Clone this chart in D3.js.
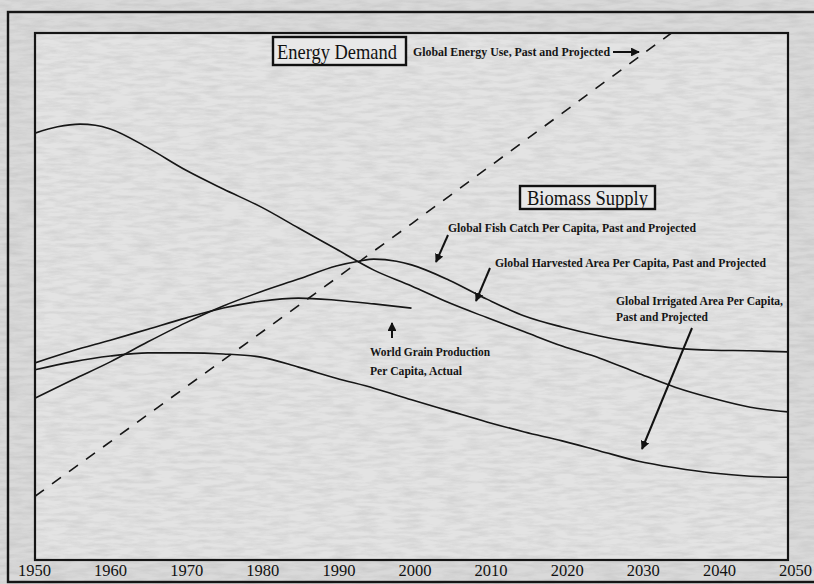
<!DOCTYPE html>
<html>
<head>
<meta charset="utf-8">
<script src="https://cdn.jsdelivr.net/npm/d3@7"></script>
<style>
  body { margin: 0; background: #dedede; }
  svg { display: block; }
</style>
</head>
<body>
<script>
// values are an index (0 = bottom of the plot, 100 = top)
var tickYears = [1950, 1960, 1970, 1980, 1990, 2000, 2010, 2020, 2030, 2040, 2050];

var harvestedYears  = [1950, 1953, 1956, 1958, 1960, 1965, 1970, 1975, 1980, 1985, 1990, 1995, 2000, 2005, 2010, 2015, 2020, 2025, 2030, 2035, 2040, 2045, 2050];
var harvestedValues = [81.0, 82.2, 82.7, 82.5, 81.8, 78.2, 74.0, 70.4, 67.0, 63.0, 59.0, 55.0, 52.0, 48.8, 46.0, 43.3, 40.6, 38.3, 35.5, 32.8, 30.7, 29.0, 28.1];

var fishYears  = [1950, 1955, 1960, 1965, 1970, 1975, 1980, 1985, 1990, 1993, 1995, 1998, 2000, 2005, 2010, 2015, 2020, 2025, 2030, 2035, 2040, 2045, 2050];
var fishValues = [30.7, 34.2, 37.6, 41.4, 45.0, 48.2, 50.9, 53.3, 55.8, 56.7, 57.1, 56.7, 56.0, 53.1, 49.5, 46.3, 44.2, 42.5, 41.2, 40.2, 39.8, 39.7, 39.5];

var grainYears  = [1950, 1955, 1960, 1965, 1970, 1975, 1980, 1985, 1990, 1995, 2000];
var grainValues = [37.4, 39.7, 41.7, 43.8, 45.9, 47.8, 49.1, 49.7, 49.3, 48.6, 47.8];

var irrigatedYears  = [1950, 1955, 1960, 1965, 1970, 1975, 1980, 1985, 1990, 1995, 2000, 2005, 2010, 2015, 2020, 2025, 2030, 2035, 2040, 2045, 2050];
var irrigatedValues = [36.1, 37.6, 38.7, 39.3, 39.3, 39.1, 38.5, 36.6, 34.5, 32.6, 30.4, 28.3, 26.2, 24.3, 22.6, 20.7, 18.8, 17.5, 16.5, 15.9, 15.7];

var energyYears  = [1950, 2000, 2035];
var energyValues = [12.1, 63.8, 100.5];

var width = 814,
    height = 584;

var x = d3.scaleLinear().domain([1950, 2050]).range([35, 788]);
var xLabels = d3.scaleLinear().domain([1950, 2050]).range([34, 795]);
var y = d3.scaleLinear().domain([0, 100]).range([560, 33]);

var svg = d3.select("body").append("svg")
    .attr("width", width)
    .attr("height", height);

var defs = svg.append("defs");

// paper grain of the scan
var f = defs.append("filter").attr("id", "paper")
    .attr("x", 0).attr("y", 0).attr("width", "100%").attr("height", "100%");
f.append("feTurbulence").attr("type", "fractalNoise")
    .attr("baseFrequency", "0.045 0.25").attr("numOctaves", 3).attr("seed", 7);
f.append("feColorMatrix").attr("type", "matrix")
    .attr("values", "0 0 0 0 0.3  0 0 0 0 0.3  0 0 0 0 0.3  0 0 0 0.45 -0.16");

defs.append("clipPath").attr("id", "plot")
  .append("rect")
    .attr("x", x(1950)).attr("y", y(100))
    .attr("width", x(2050) - x(1950)).attr("height", y(0) - y(100));

defs.append("marker")
    .attr("id", "head")
    .attr("viewBox", "0 0 10 10")
    .attr("refX", 9).attr("refY", 5)
    .attr("markerWidth", 4.4).attr("markerHeight", 4.4)
    .attr("markerUnits", "strokeWidth")
    .attr("orient", "auto")
  .append("path")
    .attr("d", "M0,0L10,5L0,10z")
    .attr("fill", "#111");

svg.append("rect").attr("width", width).attr("height", height).attr("fill", "#d9d9d9");
svg.append("rect")
    .attr("x", x(1950)).attr("y", y(100))
    .attr("width", x(2050) - x(1950)).attr("height", y(0) - y(100))
    .attr("fill", "#e3e3e3");
svg.append("rect").attr("width", width).attr("height", height)
    .attr("filter", "url(#paper)").attr("opacity", 0.9);

// frames (outer one runs off the right edge of the scan)
svg.append("rect")
    .attr("x", 8).attr("y", 12)
    .attr("width", 812).attr("height", 570)
    .attr("fill", "none").attr("stroke", "#151515").attr("stroke-width", 2.4);

svg.append("rect")
    .attr("x", x(1950)).attr("y", y(100))
    .attr("width", x(2050) - x(1950)).attr("height", y(0) - y(100))
    .attr("fill", "none").attr("stroke", "#151515").attr("stroke-width", 2.2);

var line = d3.line()
    .x(function(d) { return x(d[0]); })
    .y(function(d) { return y(d[1]); })
    .curve(d3.curveMonotoneX);

var series = [
  { years: harvestedYears, values: harvestedValues },
  { years: fishYears, values: fishValues },
  { years: grainYears, values: grainValues },
  { years: irrigatedYears, values: irrigatedValues }
];

var g = svg.append("g").attr("clip-path", "url(#plot)");

g.selectAll(".series")
    .data(series)
  .enter().append("path")
    .attr("class", "series")
    .attr("d", function(s) { return line(d3.zip(s.years, s.values)); })
    .attr("fill", "none")
    .attr("stroke", "#161616")
    .attr("stroke-width", 1.6);

g.append("path")
    .attr("d", d3.line()
      .x(function(d) { return x(d[0]); })
      .y(function(d) { return y(d[1]); })(d3.zip(energyYears, energyValues)))
    .attr("fill", "none")
    .attr("stroke", "#161616")
    .attr("stroke-width", 1.6)
    .attr("stroke-dasharray", "11,10");

// year labels
var axis = svg.append("g")
    .attr("transform", "translate(0," + y(0) + ")")
    .call(d3.axisBottom(xLabels).tickValues(tickYears).tickFormat(d3.format("d")).tickSize(0).tickPadding(4));
axis.select(".domain").remove();
axis.selectAll("text")
    .attr("font-family", "'Liberation Serif', serif")
    .attr("font-size", 17)
    .attr("textLength", 33)
    .attr("lengthAdjust", "spacingAndGlyphs")
    .attr("fill", "#111");

// boxed headings
function boxed(txt, bx, by, bw, bh, tx, tw, size) {
  svg.append("rect")
      .attr("x", bx).attr("y", by)
      .attr("width", bw).attr("height", bh)
      .attr("fill", "#e8e8e8")
      .attr("stroke", "#111").attr("stroke-width", 2.4);
  svg.append("text")
      .attr("x", tx).attr("y", by + bh / 2)
      .attr("dy", "0.35em")
      .attr("textLength", tw)
      .attr("lengthAdjust", "spacingAndGlyphs")
      .attr("font-family", "'Liberation Serif', serif")
      .attr("font-size", size)
      .attr("fill", "#111")
      .text(txt);
}
boxed("Energy Demand", 273, 37, 133, 28, 277, 120, 22);
boxed("Biomass Supply", 520, 186, 135, 23, 527, 121, 20);

// small notes
var notes = [
  { t: "Global Energy Use, Past and Projected", x: 413, y: 52, w: 197 },
  { t: "Global Fish Catch Per Capita, Past and Projected", x: 448, y: 228, w: 248 },
  { t: "Global Harvested Area Per Capita, Past and Projected", x: 495, y: 263, w: 271 },
  { t: "Global Irrigated Area Per Capita,", x: 616, y: 301, w: 167 },
  { t: "Past and Projected", x: 616, y: 317, w: 92 },
  { t: "World Grain Production", x: 370, y: 352, w: 120 },
  { t: "Per Capita, Actual", x: 370, y: 371, w: 92 }
];
svg.selectAll(".note")
    .data(notes)
  .enter().append("text")
    .attr("class", "note")
    .attr("x", function(d) { return d.x; })
    .attr("y", function(d) { return d.y; })
    .attr("dy", "0.35em")
    .attr("textLength", function(d) { return d.w; })
    .attr("lengthAdjust", "spacingAndGlyphs")
    .attr("font-family", "'Liberation Serif', serif")
    .attr("font-weight", "bold")
    .attr("font-size", 12)
    .attr("fill", "#151515")
    .text(function(d) { return d.t; });

// arrows
var arrows = [
  [613, 52, 639, 52],
  [448, 235, 436, 262],
  [490, 268, 476, 301],
  [392, 338, 392, 323],
  [692, 328, 642, 449]
];
svg.selectAll(".arrow")
    .data(arrows)
  .enter().append("line")
    .attr("class", "arrow")
    .attr("x1", function(d) { return d[0]; })
    .attr("y1", function(d) { return d[1]; })
    .attr("x2", function(d) { return d[2]; })
    .attr("y2", function(d) { return d[3]; })
    .attr("stroke", "#111")
    .attr("stroke-width", 2)
    .attr("marker-end", "url(#head)");
</script>
</body>
</html>
